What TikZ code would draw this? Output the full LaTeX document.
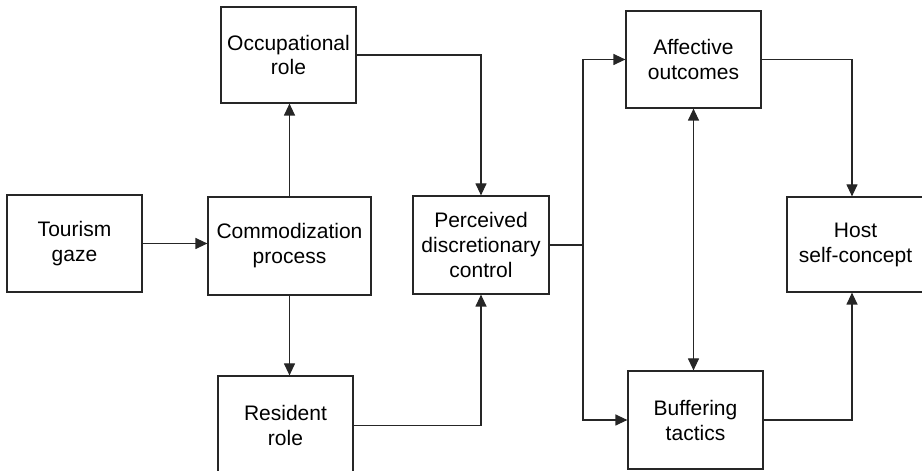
\documentclass[tikz,border=0pt]{standalone}
\usepackage{fontspec}
\setmainfont{Liberation Sans}
\usetikzlibrary{arrows.meta}
\begin{document}
\begin{tikzpicture}[x=1pt,y=1pt,
  box/.style={draw=black!85, line width=1.2pt, align=center, inner sep=0pt,
    font=\fontsize{21}{25}\selectfont},
  conn/.style={draw=black!85, line width=1.2pt},
  arr/.style={conn, -{Triangle[length=12pt,width=11pt]}},
  biarr/.style={conn, {Triangle[length=12pt,width=11pt]}-{Triangle[length=12pt,width=11pt]}}]
\useasboundingbox (0,0) rectangle (922,471);
\node[box, minimum width=135pt, minimum height=97pt] (T) at (74.5,227.5) {Tourism\\gaze};
\node[box, minimum width=163pt, minimum height=98pt] (C) at (289.5,225) {Commodization\\process};
\node[box, minimum width=135pt, minimum height=96pt] (O) at (288.5,416) {Occupational\\role};
\node[box, minimum width=135pt, minimum height=99pt] (R) at (285.5,45.5) {Resident\\role};
\node[box, minimum width=136pt, minimum height=98pt] (P) at (481,226) {Perceived\\discretionary\\control};
\node[box, minimum width=135pt, minimum height=97pt] (A) at (693.5,411.5) {Affective\\outcomes};
\node[box, minimum width=135pt, minimum height=98pt] (B) at (695.5,51) {Buffering\\tactics};
\node[box, minimum width=137pt, minimum height=95pt] (H) at (855.5,226.5) {Host\\self-concept};
\coordinate (j) at (583,226);
\coordinate (hx) at (852,0);
\draw[arr] (T.east) -- (T.east -| C.west);
\draw[arr] (C.north) -- (C.north |- O.south);
\draw[arr] (C.south) -- (C.south |- R.north);
\draw[arr] (O.east) -| (P.north);
\draw[arr] (R.east) -| (P.south);
\draw[conn] (P.east) -- (j);
\draw[arr] (j) |- (A.west);
\draw[arr] (j) |- (B.west);
\draw[biarr] (A.south) -- (A.south |- B.north);
\draw[arr] (A.east) -| (hx |- H.north);
\draw[arr] (B.east) -| (hx |- H.south);
\end{tikzpicture}
\end{document}
